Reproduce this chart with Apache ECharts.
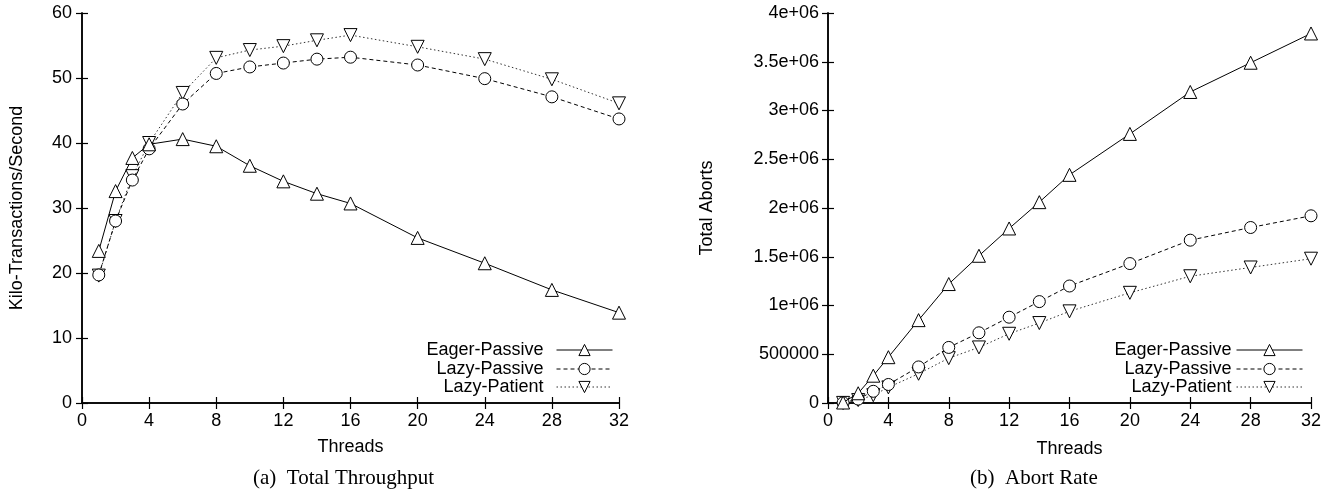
<!DOCTYPE html>
<html>
<head>
<meta charset="utf-8">
<script src="https://cdn.jsdelivr.net/npm/echarts@6/dist/echarts.min.js"></script>
<style>
html,body{margin:0;padding:0;background:#fff;}
#chart{width:1331px;height:491px;}
</style>
</head>
<body>
<div id="chart"></div>
<script>
const threads = [1, 2, 3, 4, 6, 8, 10, 12, 14, 16, 20, 24, 28, 32];
const seriesNames = ['Eager-Passive', 'Lazy-Passive', 'Lazy-Patient'];
// (a) Total Throughput, kilo-transactions/second
const thrEager = [23.4, 32.6, 37.7, 39.8, 40.6, 39.5, 36.5, 34.1, 32.2, 30.7, 25.4, 21.5, 17.4, 13.9];
const thrLazyPassive = [19.7, 28.0, 34.3, 39.1, 46.0, 50.7, 51.7, 52.3, 52.9, 53.2, 52.0, 49.9, 47.1, 43.7];
const thrLazyPatient = [19.6, 28.0, 34.9, 40.0, 47.7, 53.1, 54.3, 54.9, 55.8, 56.6, 54.8, 52.9, 49.8, 46.1];
// (b) Abort Rate, total aborts
const abEager = [5000, 100000, 280000, 470000, 850000, 1220000, 1510000, 1790000, 2060000, 2340000, 2760000, 3190000, 3490000, 3790000];
const abLazyPassive = [2000, 40000, 120000, 190000, 370000, 570000, 720000, 880000, 1040000, 1200000, 1430000, 1670000, 1800000, 1920000];
const abLazyPatient = [1000, 30000, 80000, 160000, 300000, 460000, 570000, 710000, 820000, 940000, 1130000, 1300000, 1390000, 1480000];
const yLeftTicks = {min: 0, max: 60, interval: 10};
const yRightTicks = {min: 0, max: 4000000, interval: 500000};
const xTicks = {min: 0, max: 32, interval: 4};

const FONT = 'Liberation Sans';
const FS = 18;
const styles = [
  {symbol: 'triangle', rotate: 0, size: 13, type: 'solid', color: '#000'},
  {symbol: 'circle', rotate: 0, size: 12, type: [4, 3], color: '#000'},
  {symbol: 'triangle', rotate: 180, size: 13, type: [1.5, 2.5], color: '#333'}
];

function pairs(ys) { return threads.map((t, i) => [t, ys[i]]); }

function makeSeries(name, ys, idx, axisIdx) {
  const s = styles[idx];
  return {
    name: name, type: 'line', data: pairs(ys),
    xAxisIndex: axisIdx, yAxisIndex: axisIdx,
    symbol: s.symbol, symbolRotate: s.rotate, symbolSize: s.size,
    showAllSymbol: true, animation: false,
    lineStyle: {color: s.color, width: 1, type: s.type},
    itemStyle: {color: '#fff', borderColor: '#000', borderWidth: 1},
    z: 3 - idx
  };
}

function abFmt(v) {
  if (v === 0) return '0';
  if (v < 1000000) return String(v);
  return (v / 1000000) + 'e+06';
}

const axisLine = {show: true, lineStyle: {color: '#000', width: 1.5}};
const tick = {show: true, inside: true, length: 6, lineStyle: {color: '#000', width: 1.2}};
const lbl = {color: '#000', fontFamily: FONT, fontSize: FS, margin: 9};
const nameStyle = {color: '#000', fontFamily: FONT, fontSize: FS};

const grids = [
  {left: 82, top: 13, width: 537, height: 390},
  {left: 828, top: 13, width: 483, height: 390}
];

const xAxes = [
  Object.assign({type: 'value', gridIndex: 0, position: 'bottom', axisLine, axisTick: tick, axisLabel: lbl, splitLine: {show: false},
    name: 'Threads', nameLocation: 'middle', nameGap: 35, nameTextStyle: nameStyle}, xTicks),
  Object.assign({type: 'value', gridIndex: 1, position: 'bottom', axisLine, axisTick: tick, axisLabel: lbl, splitLine: {show: false},
    name: 'Threads', nameLocation: 'middle', nameGap: 37, nameTextStyle: nameStyle}, xTicks),
  Object.assign({type: 'value', gridIndex: 0, position: 'top', axisLine, axisTick: tick, axisLabel: {show: false}, splitLine: {show: false}}, xTicks),
  Object.assign({type: 'value', gridIndex: 1, position: 'top', axisLine, axisTick: tick, axisLabel: {show: false}, splitLine: {show: false}}, xTicks)
];
const yAxes = [
  Object.assign({type: 'value', gridIndex: 0, position: 'left', axisLine, axisTick: tick, axisLabel: Object.assign({}, lbl, {margin: 10}), splitLine: {show: false},
    name: 'Kilo-Transactions/Second', nameLocation: 'middle', nameGap: 56, nameTextStyle: nameStyle}, yLeftTicks),
  Object.assign({type: 'value', gridIndex: 1, position: 'left', axisLine, axisTick: tick, axisLabel: Object.assign({}, lbl, {formatter: abFmt}), splitLine: {show: false},
    name: 'Total Aborts', nameLocation: 'middle', nameGap: 112, nameTextStyle: nameStyle}, yRightTicks),
  Object.assign({type: 'value', gridIndex: 0, position: 'right', axisLine, axisTick: tick, axisLabel: {show: false}, splitLine: {show: false}}, yLeftTicks),
  Object.assign({type: 'value', gridIndex: 1, position: 'right', axisLine, axisTick: tick, axisLabel: {show: false}, splitLine: {show: false}}, yRightTicks)
];

const series = [
  makeSeries(seriesNames[0], thrEager, 0, 0),
  makeSeries(seriesNames[1], thrLazyPassive, 1, 0),
  makeSeries(seriesNames[2], thrLazyPatient, 2, 0),
  makeSeries(seriesNames[0], abEager, 0, 1),
  makeSeries(seriesNames[1], abLazyPassive, 1, 1),
  makeSeries(seriesNames[2], abLazyPatient, 2, 1)
];

const legendRows = [341, 360, 378];
const legendRights = [718, 28];
const legendIconW = [56, 66];
const legends = [];
legendRights.forEach((r, k) => {
  seriesNames.forEach((n, i) => {
    legends.push({
      data: [n], orient: 'vertical', align: 'right', right: r, top: legendRows[i],
      itemWidth: legendIconW[k], itemHeight: 14, padding: 0, selectedMode: false,
      lineStyle: {width: 1},
      itemStyle: {color: '#fff', borderColor: '#000', borderWidth: 1},
      textStyle: {color: '#000', fontFamily: FONT, fontSize: FS, padding: [0, k === 0 ? 8 : 0, 0, 0]}
    });
  });
});

const chart = echarts.init(document.getElementById('chart'), null, {renderer: 'canvas'});
chart.setOption({
  backgroundColor: '#fff',
  animation: false,
  grid: grids,
  xAxis: xAxes,
  yAxis: yAxes,
  legend: legends,
  series: series,
  graphic: [
    {type: 'text', left: 253, top: 468, style: {text: '(a)  Total Throughput', font: '21px "Liberation Serif"', fill: '#000'}},
    {type: 'text', left: 970, top: 468, style: {text: '(b)  Abort Rate', font: '21px "Liberation Serif"', fill: '#000'}}
  ]
});
</script>
</body>
</html>
